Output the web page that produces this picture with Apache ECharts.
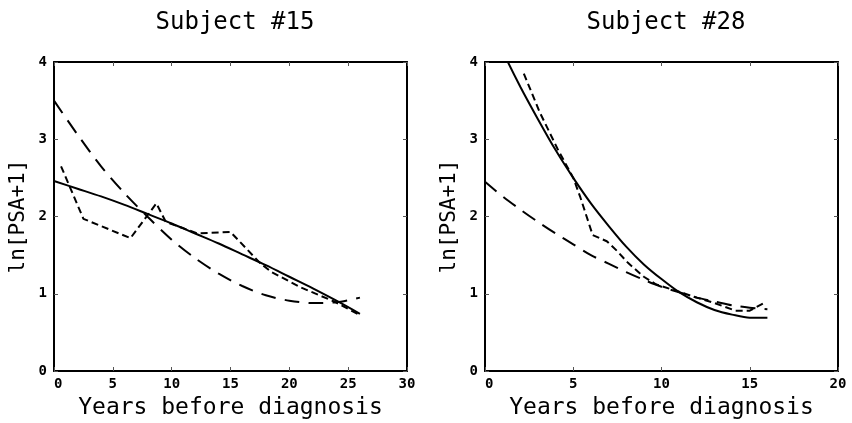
<!DOCTYPE html>
<html>
<head>
<meta charset="utf-8">
<script src="https://cdn.jsdelivr.net/npm/echarts@6/dist/echarts.min.js"></script>
<style>html,body{margin:0;padding:0;background:#fff}#c{width:852px;height:423px}</style>
</head>
<body>
<div id="c"></div>
<script>
// ---- Subject #15 ----
const s15ModelX = [0, 2, 4, 6, 8, 10, 12, 14, 16, 18, 20, 22, 24, 26];
const s15Solid = [2.46, 2.36, 2.26, 2.15, 2.03, 1.91, 1.78, 1.65, 1.51, 1.37, 1.22, 1.07, 0.91, 0.74];
const s15LongDash = [3.50, 3.06, 2.65, 2.30, 1.99, 1.70, 1.46, 1.26, 1.10, 0.98, 0.91, 0.88, 0.89, 0.95];
const s15DataX = [0.6, 2.5, 6.5, 8.7, 9.5, 12.2, 15.0, 17.5, 18.5, 21.0, 23.8, 25.8];
const s15DataY = [2.65, 1.97, 1.72, 2.17, 1.93, 1.78, 1.80, 1.40, 1.28, 1.08, 0.90, 0.74];

// ---- Subject #28 ----
const s28ModelX = [0, 1, 2, 3, 4, 5, 6, 7, 8, 9, 10, 11, 12, 13, 14, 15, 16];
const s28Solid = [4.64, 4.14, 3.68, 3.26, 2.86, 2.50, 2.17, 1.88, 1.61, 1.38, 1.19, 1.02, 0.89, 0.79, 0.73, 0.69, 0.69];
const s28LongDash = [2.45, 2.26, 2.09, 1.93, 1.78, 1.64, 1.50, 1.39, 1.28, 1.18, 1.09, 1.02, 0.95, 0.90, 0.85, 0.82, 0.80];
const s28DataX = [2.2, 3.1, 4.1, 5.0, 5.4, 6.1, 6.9, 7.5, 8.1, 9.0, 9.7, 10.8, 12.0, 13.0, 14.2, 15.0, 15.8];
const s28DataY = [3.85, 3.35, 2.88, 2.50, 2.25, 1.76, 1.68, 1.55, 1.40, 1.22, 1.12, 1.04, 0.95, 0.88, 0.78, 0.78, 0.88];

const titles = ['Subject #15', 'Subject #28'];
const xName = 'Years before diagnosis';
const yName = 'ln[PSA+1]';
const xMaxes = [30, 20];
const yTicks = [0, 1, 2, 3, 4];

const MONO = '"DejaVu Sans Mono", monospace';
const zip = (xs, ys) => xs.map((x, i) => [x, ys[i]]);

const grids = [
  { left: 54, right: 445, top: 62, bottom: 52, outerBoundsMode: 'none', containLabel: false },
  { left: 485, right: 14, top: 62, bottom: 52, outerBoundsMode: 'none', containLabel: false }
];

function xAx(gi, pos, show) {
  return {
    type: 'value', gridIndex: gi, position: pos, min: 0, max: xMaxes[gi], interval: 5,
    name: show ? xName : '', nameLocation: 'middle', nameGap: 26,
    nameTextStyle: { fontFamily: MONO, fontSize: 23, color: '#000' },
    axisLine: { show: true, onZero: false, lineStyle: { color: '#000', width: 2 } },
    axisTick: { show: true, inside: true, length: 4, lineStyle: { color: '#555', width: 1 } },
    axisLabel: { show: show, fontFamily: MONO, fontSize: 14, fontWeight: 'bold', color: '#000', margin: 6, alignMinLabel: 'left' },
    splitLine: { show: false }
  };
}
function yAx(gi, pos, show) {
  return {
    type: 'value', gridIndex: gi, position: pos, min: yTicks[0], max: yTicks[yTicks.length - 1], interval: 1,
    name: show ? yName : '', nameLocation: 'middle', nameGap: 25,
    nameTextStyle: { fontFamily: MONO, fontSize: 21, color: '#000' },
    axisLine: { show: true, onZero: false, lineStyle: { color: '#000', width: 2 } },
    axisTick: { show: true, inside: true, length: 4, lineStyle: { color: '#555', width: 1 } },
    axisLabel: { show: show, fontFamily: MONO, fontSize: 14, fontWeight: 'bold', color: '#000', margin: 7 },
    splitLine: { show: false }
  };
}

function ser(xi, yi, data, type, smooth) {
  return {
    type: 'line', xAxisIndex: xi, yAxisIndex: yi, data: data, symbol: 'none', smooth: smooth,
    clip: true, animation: false,
    lineStyle: { color: '#000', width: 2, type: type }
  };
}

const chart = echarts.init(document.getElementById('c'), null, { renderer: 'canvas' });
chart.setOption({
  backgroundColor: '#fff',
  animation: false,
  title: [
    { text: titles[0], left: 230, top: 6, textAlign: 'center', textStyle: { fontFamily: MONO, fontSize: 24, fontWeight: 'normal', color: '#000' } },
    { text: titles[1], left: 661, top: 6, textAlign: 'center', textStyle: { fontFamily: MONO, fontSize: 24, fontWeight: 'normal', color: '#000' } }
  ],
  grid: grids,
  xAxis: [xAx(0, 'bottom', true), xAx(0, 'top', false), xAx(1, 'bottom', true), xAx(1, 'top', false)],
  yAxis: [yAx(0, 'left', true), yAx(0, 'right', false), yAx(1, 'left', true), yAx(1, 'right', false)],
  series: [
    ser(0, 0, zip(s15ModelX, s15Solid), 'solid', 0.3),
    ser(0, 0, zip(s15ModelX, s15LongDash), [15, 9], 0.3),
    ser(0, 0, zip(s15DataX, s15DataY), [7, 4], false),
    ser(2, 2, zip(s28ModelX, s28Solid), 'solid', 0.3),
    ser(2, 2, zip(s28ModelX, s28LongDash), [15, 9], 0.3),
    ser(2, 2, zip(s28DataX, s28DataY), [7, 4], false)
  ]
});
</script>
</body>
</html>
